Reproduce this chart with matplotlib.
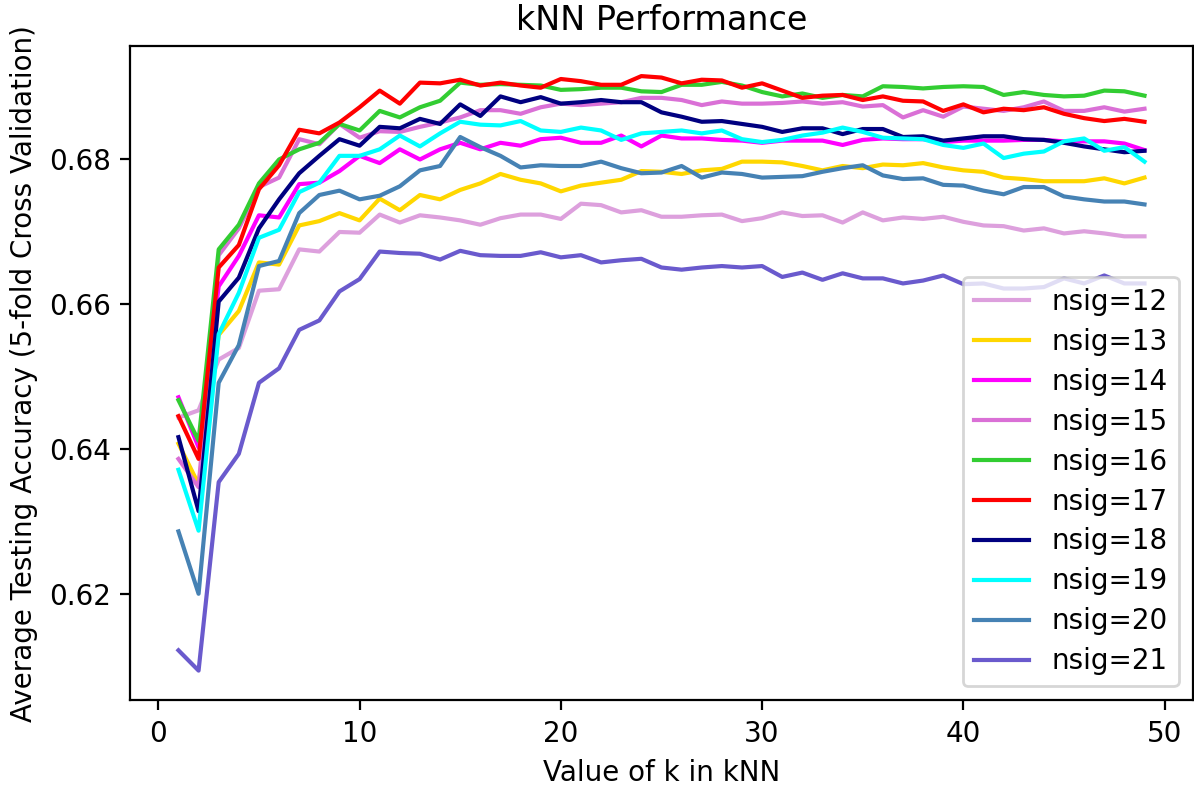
import matplotlib
matplotlib.use("Agg")
import matplotlib.pyplot as plt

k_values = list(range(1, 50))

nsig_labels = ["nsig=12", "nsig=13", "nsig=14", "nsig=15", "nsig=16",
               "nsig=17", "nsig=18", "nsig=19", "nsig=20", "nsig=21"]
line_colors = ["plum", "gold", "magenta", "orchid", "limegreen",
               "red", "navy", "cyan", "steelblue", "slateblue"]

acc_nsig12 = [0.6444, 0.6454, 0.6524, 0.6540, 0.6619, 0.6621, 0.6676, 0.6673, 0.6700, 0.6699,
              0.6724, 0.6713, 0.6723, 0.6720, 0.6716, 0.6710, 0.6719, 0.6724, 0.6724, 0.6718,
              0.6739, 0.6737, 0.6727, 0.6730, 0.6721, 0.6721, 0.6723, 0.6724, 0.6715, 0.6719,
              0.6727, 0.6722, 0.6723, 0.6713, 0.6727, 0.6716, 0.6720, 0.6718, 0.6721, 0.6714,
              0.6709, 0.6708, 0.6702, 0.6705, 0.6698, 0.6701, 0.6698, 0.6694, 0.6694]
acc_nsig13 = [0.6408, 0.6352, 0.6558, 0.6591, 0.6658, 0.6655, 0.6709, 0.6715, 0.6726, 0.6716,
              0.6746, 0.6730, 0.6751, 0.6745, 0.6758, 0.6767, 0.6780, 0.6772, 0.6767, 0.6756,
              0.6764, 0.6768, 0.6772, 0.6784, 0.6783, 0.6780, 0.6785, 0.6787, 0.6797, 0.6797,
              0.6796, 0.6791, 0.6785, 0.6791, 0.6788, 0.6793, 0.6792, 0.6795, 0.6789, 0.6785,
              0.6783, 0.6775, 0.6773, 0.6770, 0.6770, 0.6770, 0.6774, 0.6767, 0.6775]
acc_nsig14 = [0.6472, 0.6403, 0.6625, 0.6667, 0.6723, 0.6720, 0.6766, 0.6768, 0.6784, 0.6805,
              0.6795, 0.6814, 0.6800, 0.6814, 0.6823, 0.6814, 0.6823, 0.6819, 0.6828, 0.6830,
              0.6823, 0.6823, 0.6833, 0.6818, 0.6833, 0.6829, 0.6829, 0.6827, 0.6826, 0.6823,
              0.6826, 0.6826, 0.6826, 0.6820, 0.6827, 0.6829, 0.6828, 0.6828, 0.6824, 0.6826,
              0.6826, 0.6826, 0.6827, 0.6827, 0.6825, 0.6825, 0.6825, 0.6822, 0.6813]
acc_nsig15 = [0.6387, 0.6348, 0.6668, 0.6705, 0.6762, 0.6775, 0.6828, 0.6821, 0.6849, 0.6830,
              0.6839, 0.6838, 0.6845, 0.6851, 0.6858, 0.6868, 0.6868, 0.6863, 0.6872, 0.6877,
              0.6875, 0.6877, 0.6879, 0.6885, 0.6885, 0.6882, 0.6875, 0.6880, 0.6877, 0.6877,
              0.6878, 0.6880, 0.6877, 0.6879, 0.6873, 0.6875, 0.6858, 0.6868, 0.6859, 0.6873,
              0.6870, 0.6867, 0.6872, 0.6880, 0.6867, 0.6867, 0.6872, 0.6866, 0.6870]
acc_nsig16 = [0.6468, 0.6412, 0.6676, 0.6710, 0.6767, 0.6800, 0.6814, 0.6823, 0.6849, 0.6840,
              0.6867, 0.6858, 0.6872, 0.6881, 0.6906, 0.6903, 0.6904, 0.6903, 0.6902, 0.6896,
              0.6897, 0.6899, 0.6899, 0.6894, 0.6893, 0.6903, 0.6903, 0.6907, 0.6902, 0.6893,
              0.6887, 0.6891, 0.6885, 0.6889, 0.6887, 0.6901, 0.6900, 0.6898, 0.6900, 0.6901,
              0.6900, 0.6889, 0.6893, 0.6889, 0.6887, 0.6888, 0.6895, 0.6894, 0.6888]
acc_nsig17 = [0.6446, 0.6387, 0.6651, 0.6682, 0.6759, 0.6792, 0.6841, 0.6836, 0.6851, 0.6872,
              0.6895, 0.6877, 0.6906, 0.6905, 0.6910, 0.6902, 0.6906, 0.6902, 0.6899, 0.6911,
              0.6908, 0.6903, 0.6903, 0.6915, 0.6913, 0.6905, 0.6910, 0.6909, 0.6899, 0.6905,
              0.6895, 0.6885, 0.6888, 0.6889, 0.6882, 0.6887, 0.6881, 0.6880, 0.6867, 0.6876,
              0.6865, 0.6870, 0.6868, 0.6872, 0.6863, 0.6857, 0.6853, 0.6856, 0.6852]
acc_nsig18 = [0.6417, 0.6315, 0.6604, 0.6637, 0.6705, 0.6745, 0.6781, 0.6805, 0.6828, 0.6819,
              0.6845, 0.6843, 0.6856, 0.6849, 0.6876, 0.6860, 0.6887, 0.6879, 0.6886, 0.6877,
              0.6879, 0.6882, 0.6879, 0.6879, 0.6865, 0.6859, 0.6852, 0.6853, 0.6849, 0.6845,
              0.6838, 0.6843, 0.6843, 0.6835, 0.6842, 0.6842, 0.6831, 0.6832, 0.6826, 0.6829,
              0.6832, 0.6832, 0.6828, 0.6827, 0.6823, 0.6818, 0.6814, 0.6810, 0.6812]
acc_nsig19 = [0.6372, 0.6288, 0.6559, 0.6616, 0.6692, 0.6703, 0.6755, 0.6768, 0.6805, 0.6805,
              0.6814, 0.6833, 0.6818, 0.6836, 0.6852, 0.6848, 0.6847, 0.6853, 0.6840, 0.6838,
              0.6844, 0.6840, 0.6827, 0.6836, 0.6838, 0.6840, 0.6836, 0.6840, 0.6828, 0.6824,
              0.6827, 0.6833, 0.6837, 0.6844, 0.6838, 0.6830, 0.6829, 0.6828, 0.6820, 0.6816,
              0.6822, 0.6802, 0.6808, 0.6811, 0.6825, 0.6829, 0.6812, 0.6817, 0.6797]
acc_nsig20 = [0.6287, 0.6201, 0.6492, 0.6544, 0.6653, 0.6660, 0.6726, 0.6751, 0.6757, 0.6745,
              0.6750, 0.6763, 0.6785, 0.6791, 0.6831, 0.6817, 0.6805, 0.6789, 0.6792, 0.6791,
              0.6791, 0.6797, 0.6788, 0.6781, 0.6782, 0.6791, 0.6775, 0.6782, 0.6780, 0.6775,
              0.6776, 0.6777, 0.6783, 0.6788, 0.6792, 0.6778, 0.6773, 0.6774, 0.6765, 0.6764,
              0.6757, 0.6752, 0.6762, 0.6762, 0.6749, 0.6745, 0.6742, 0.6742, 0.6738]
acc_nsig21 = [0.6123, 0.6095, 0.6355, 0.6394, 0.6492, 0.6512, 0.6565, 0.6578, 0.6618, 0.6635,
              0.6673, 0.6671, 0.6670, 0.6662, 0.6674, 0.6668, 0.6667, 0.6667, 0.6672, 0.6665,
              0.6668, 0.6658, 0.6661, 0.6663, 0.6651, 0.6648, 0.6651, 0.6653, 0.6651, 0.6653,
              0.6638, 0.6644, 0.6634, 0.6643, 0.6636, 0.6636, 0.6629, 0.6633, 0.6640, 0.6628,
              0.6629, 0.6622, 0.6622, 0.6624, 0.6636, 0.6629, 0.6640, 0.6629, 0.6629]

series = [acc_nsig12, acc_nsig13, acc_nsig14, acc_nsig15, acc_nsig16,
          acc_nsig17, acc_nsig18, acc_nsig19, acc_nsig20, acc_nsig21]

fig = plt.figure(figsize=(5.97, 3.93), dpi=200)
ax = fig.add_axes([0.109, 0.109, 0.890, 0.832])

for acc, label, color in zip(series, nsig_labels, line_colors):
    ax.plot(k_values, acc, color=color, label=label)

ax.set_xticks([0, 10, 20, 30, 40, 50])
ax.set_yticks([0.62, 0.64, 0.66, 0.68])
ax.set_title("kNN Performance")
ax.set_xlabel("Value of k in kNN")
ax.set_ylabel("Average Testing Accuracy (5-fold Cross Validation)")
# slightly tighter rows than the default, as in the reference
ax.legend(loc="lower right", labelspacing=0.43)

fig.savefig("out.png", dpi=200)
plt.close(fig)
